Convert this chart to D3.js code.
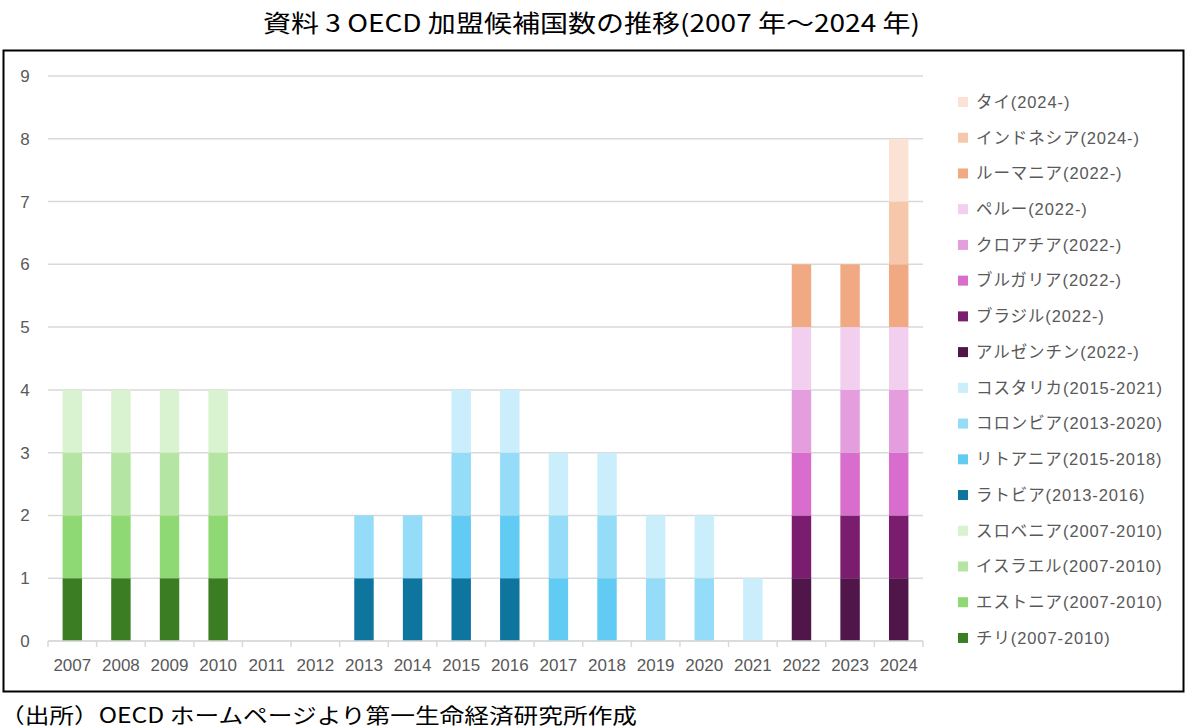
<!DOCTYPE html>
<html>
<head>
<meta charset="utf-8">
<script src="https://cdn.jsdelivr.net/npm/d3@7"></script>
<style>
  body { margin: 0; background: #fff; }
  text { font-family: "Liberation Sans", "Noto Sans CJK JP", sans-serif; }
</style>
</head>
<body>
<svg width="1190" height="728"></svg>
<script>
const years = ["2007","2008","2009","2010","2011","2012","2013","2014","2015","2016","2017","2018","2019","2020","2021","2022","2023","2024"]
const yTicks = [0,1,2,3,4,5,6,7,8,9]

// stacking order, bottom to top
const countries = [
    "チリ(2007-2010)", "エストニア(2007-2010)", "イスラエル(2007-2010)", "スロベニア(2007-2010)",
    "ラトビア(2013-2016)", "リトアニア(2015-2018)", "コロンビア(2013-2020)", "コスタリカ(2015-2021)",
    "アルゼンチン(2022-)", "ブラジル(2022-)", "ブルガリア(2022-)", "クロアチア(2022-)", "ペルー(2022-)",
    "ルーマニア(2022-)", "インドネシア(2024-)", "タイ(2024-)"
]
// 1 = candidate in that year, per country (2007..2024)
const chile      = [1,1,1,1,0,0,0,0,0,0,0,0,0,0,0,0,0,0]
const estonia    = [1,1,1,1,0,0,0,0,0,0,0,0,0,0,0,0,0,0]
const israel     = [1,1,1,1,0,0,0,0,0,0,0,0,0,0,0,0,0,0]
const slovenia   = [1,1,1,1,0,0,0,0,0,0,0,0,0,0,0,0,0,0]
const latvia     = [0,0,0,0,0,0,1,1,1,1,0,0,0,0,0,0,0,0]
const lithuania  = [0,0,0,0,0,0,0,0,1,1,1,1,0,0,0,0,0,0]
const colombia   = [0,0,0,0,0,0,1,1,1,1,1,1,1,1,0,0,0,0]
const costarica  = [0,0,0,0,0,0,0,0,1,1,1,1,1,1,1,0,0,0]
const argentina  = [0,0,0,0,0,0,0,0,0,0,0,0,0,0,0,1,1,1]
const brazil     = [0,0,0,0,0,0,0,0,0,0,0,0,0,0,0,1,1,1]
const bulgaria   = [0,0,0,0,0,0,0,0,0,0,0,0,0,0,0,1,1,1]
const croatia    = [0,0,0,0,0,0,0,0,0,0,0,0,0,0,0,1,1,1]
const peru       = [0,0,0,0,0,0,0,0,0,0,0,0,0,0,0,1,1,1]
const romania    = [0,0,0,0,0,0,0,0,0,0,0,0,0,0,0,1,1,1]
const indonesia  = [0,0,0,0,0,0,0,0,0,0,0,0,0,0,0,0,0,1]
const thailand   = [0,0,0,0,0,0,0,0,0,0,0,0,0,0,0,0,0,1]

const series = [chile, estonia, israel, slovenia, latvia, lithuania, colombia, costarica,
    argentina, brazil, bulgaria, croatia, peru, romania, indonesia, thailand]

const colors = ["#3b7d23", "#8ed973", "#b4e5a2", "#d9f2d0",
    "#0e759f", "#61cbf3", "#94dcf8", "#caeefb",
    "#501549", "#7a1d6e", "#d86dcd", "#e59edd", "#f2ceef",
    "#f1a983", "#f7c7ac", "#fbe2d5"]

let svg = d3.select("svg")
let margin = {top: 76, left: 48, right: 267, bottom: 87}
let width = 1190 - margin.left - margin.right
let height = 728 - margin.top - margin.bottom

// title
svg.append("text")
    .attr("x", 263).attr("y", 32)
    .attr("textLength", 657).attr("lengthAdjust", "spacingAndGlyphs")
    .style("font-family", "'Noto Sans CJK JP', sans-serif")
    .style("font-size", "24px")
    .text("資料 3 OECD 加盟候補国数の推移(2007 年～2024 年)")

// frame
svg.append("rect")
    .attr("x", 3.5).attr("y", 50.5)
    .attr("width", 1180).attr("height", 641)
    .attr("fill", "none").attr("stroke", "#000").attr("stroke-width", 2)

// footer
svg.append("text")
    .attr("x", 0).attr("y", 723)
    .attr("textLength", 637).attr("lengthAdjust", "spacingAndGlyphs")
    .style("font-family", "'Noto Sans CJK JP', sans-serif")
    .style("font-size", "21px")
    .text("（出所）OECD ホームページより第一生命経済研究所作成")

let g = svg.append("g").attr("transform", `translate(${margin.left},${margin.top})`)

let x = d3.scaleBand().domain(years).range([0, width]).paddingInner(0.6).paddingOuter(0.3)
let y = d3.scaleLinear().domain([0, 9]).range([height, 0])

// gridlines
g.selectAll(".grid")
    .data(yTicks)
    .enter()
    .append("line")
    .attr("x1", 0).attr("x2", width)
    .attr("y1", d => y(d)).attr("y2", d => y(d))
    .attr("stroke", "#d9d9d9").attr("stroke-width", 1.5)

// y labels
g.selectAll(".ylab")
    .data(yTicks)
    .enter()
    .append("text")
    .attr("x", -23).attr("y", d => y(d))
    .attr("dy", "0.35em")
    .attr("text-anchor", "middle")
    .attr("fill", "#595959")
    .style("font-size", "17px")
    .text(d => d)

// stacked bars
let table = years.map((yr, i) => {
    let row = {year: yr}
    countries.forEach((c, j) => { row[c] = series[j][i] })
    return row
})
let stacked = d3.stack().keys(countries)(table)

g.selectAll(".layer")
    .data(stacked)
    .enter()
    .append("g")
    .attr("fill", (d, i) => colors[i])
    .selectAll("rect")
    .data(d => d.filter(p => p[1] > p[0]))
    .enter()
    .append("rect")
    .attr("x", d => x(d.data.year))
    .attr("y", d => y(d[1]))
    .attr("width", x.bandwidth())
    .attr("height", d => y(d[0]) - y(d[1]))

// x axis
let xAxis = g.append("g").attr("transform", `translate(0,${height})`)
xAxis.append("line").attr("x1", 0).attr("x2", width).attr("stroke", "#d9d9d9").attr("stroke-width", 1.5)
let step = width / years.length
xAxis.selectAll(".tick")
    .data(d3.range(years.length + 1))
    .enter()
    .append("line")
    .attr("x1", d => d * step).attr("x2", d => d * step)
    .attr("y1", 0).attr("y2", 6)
    .attr("stroke", "#d9d9d9").attr("stroke-width", 1.5)
xAxis.selectAll(".xlab")
    .data(years)
    .enter()
    .append("text")
    .attr("x", d => x(d) + x.bandwidth() / 2)
    .attr("y", 30)
    .attr("text-anchor", "middle")
    .attr("fill", "#595959")
    .style("font-size", "17px")
    .text(d => d)

// legend, top to bottom in reverse stacking order
let legendItems = countries.map((c, i) => ({name: c, color: colors[i]})).reverse()
let legend = svg.append("g").attr("transform", "translate(958,102)")
legend.selectAll("rect")
    .data(legendItems)
    .enter()
    .append("rect")
    .attr("x", 0)
    .attr("y", (d, i) => i * 35.73 - 5)
    .attr("width", 10).attr("height", 10)
    .attr("fill", d => d.color)
legend.selectAll("text")
    .data(legendItems)
    .enter()
    .append("text")
    .attr("x", 18)
    .attr("y", (d, i) => i * 35.73)
    .attr("dy", "0.35em")
    .attr("fill", "#595959")
    .style("font-size", "16.5px")
    .style("letter-spacing", "0.9px")
    .text(d => d.name)
</script>
</body>
</html>
